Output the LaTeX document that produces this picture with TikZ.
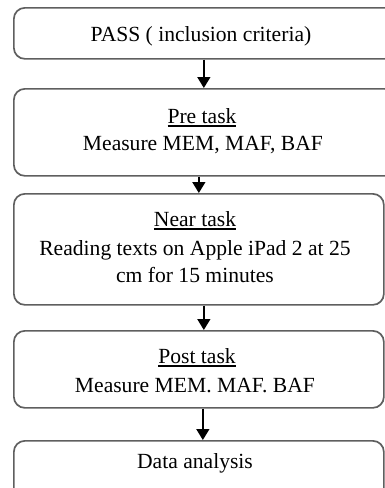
\documentclass[tikz,border=0pt]{standalone}
\usepackage{fontspec}
\setmainfont{Liberation Serif}
\usetikzlibrary{arrows.meta}
\definecolor{boxgray}{RGB}{95,95,95}
\newcommand\ulhead[1]{\leavevmode\setbox0\hbox{#1}\rlap{\rule[-3.6pt]{\wd0}{1.7pt}}\box0}
\begin{document}
\begin{tikzpicture}[x=1pt,y=-1pt,
  box/.style={draw=boxgray, line width=1.7pt, rounded corners=11pt, inner sep=0pt, anchor=north west},
  txt/.style={anchor=base, inner sep=0pt, font=\fontsize{21.6}{26}\selectfont},
  arr/.style={draw=black, line width=1.5pt, -{Triangle[width=13pt,length=11pt]}}]
\useasboundingbox (0,0) rectangle (385,488);
\clip (0,0) rectangle (385,488);
\node[box, minimum width=382pt, minimum height=51pt] (b1) at (13,7) {};
\node[box, minimum width=382pt, minimum height=87pt] (b2) at (13,88) {};
\node[box, minimum width=370pt, minimum height=111pt] (b3) at (13,193) {};
\node[box, minimum width=370pt, minimum height=77pt] (b4) at (13,330) {};
\node[box, minimum width=370pt, minimum height=70pt] (b5) at (13,440) {};
\node[txt] (t1) at (201,41) {PASS ( inclusion criteria)};
\node[txt] (t2a) at (202,123) {\ulhead{Pre task}};
\node[txt] (t2b) at (203,150) {Measure MEM, MAF, BAF};
\node[txt] (t3a) at (195,226) {\ulhead{Near task}};
\node[txt] (t3b) at (195,255) {Reading texts on Apple iPad 2 at 25};
\node[txt] (t3c) at (195,282) {cm for 15 minutes};
\node[txt] (t4a) at (197,363) {\ulhead{Post task}};
\node[txt] (t4b) at (195,392) {Measure MEM. MAF. BAF};
\node[txt] (t5) at (195,468) {Data analysis};
\draw[arr] ([xshift=-1pt]b1.south) -- ([xshift=-1pt]b2.north);
\draw[arr] (b2.south -| b3.north) -- (b3.north);
\draw[arr] ([xshift=5pt]b3.south) -- ([xshift=5pt]b4.north);
\draw[arr] ([xshift=4pt]b4.south) -- ([xshift=4pt]b5.north);
\end{tikzpicture}
\end{document}
